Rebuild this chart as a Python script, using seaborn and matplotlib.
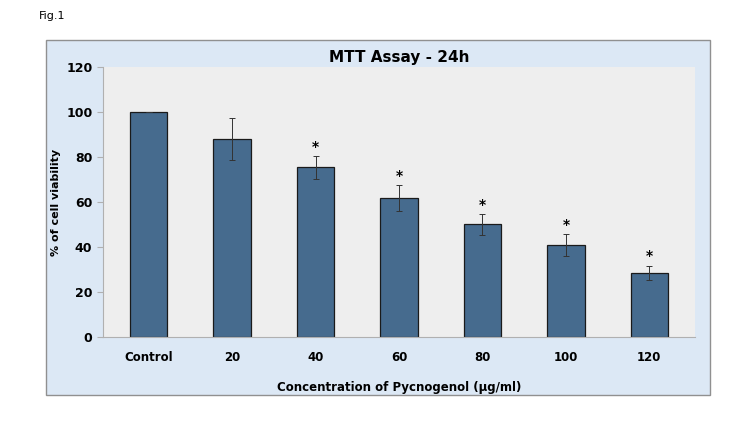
import matplotlib.pyplot as plt
import matplotlib.patches as mpatches
import pandas as pd
import seaborn as sns

categories = ["Control", "20", "40", "60", "80", "100", "120"]
viability = [100, 88, 75.5, 61.7, 50.1, 40.9, 28.5]
errors = [0, 9.3, 5.0, 5.8, 4.6, 4.8, 3.3]
significant = [False, False, True, True, True, True, True]

df = pd.DataFrame({"conc": categories, "viability": viability})

fig = plt.figure(figsize=(7.5, 4.22), dpi=100)
fig.patches.append(mpatches.Rectangle((0.061, 0.064), 0.886, 0.841, transform=fig.transFigure,
                                      facecolor="#dce8f5", edgecolor="#909090", lw=1, zorder=-1))
fig.text(0.052, 0.955, "Fig.1", fontsize=8, fontfamily="DejaVu Sans")

ax = fig.add_axes([0.137, 0.201, 0.79, 0.64])
ax.set_facecolor("#eeeeee")
sns.barplot(data=df, x="conc", y="viability", color="#466b8e", width=0.45,
            edgecolor="#1a1a1a", linewidth=0.9, saturation=1, ax=ax)
xs = range(len(categories))
ax.errorbar(xs, viability, yerr=errors, fmt="none", ecolor="#333333", elinewidth=0.7, capsize=2.5, capthick=0.7)
for x, v, e, s in zip(xs, viability, errors, significant):
    if s:
        ax.text(x, v + e + 1, "*", ha="center", va="bottom", fontsize=10, fontweight="bold")

ax.set_ylim(0, 120)
ax.set_yticks(range(0, 121, 20))
ax.set_xlim(-0.55, len(categories) - 0.45)
for side in ["top", "right"]:
    ax.spines[side].set_visible(False)
for side in ["left", "bottom"]:
    ax.spines[side].set_color("#b0b0b0")
ax.tick_params(axis="y", length=4, color="#b0b0b0", labelsize=9)
ax.tick_params(axis="x", length=0, labelsize=8.5, pad=10)
for lbl in ax.get_xticklabels() + ax.get_yticklabels():
    lbl.set_fontweight("bold")
ax.set_ylabel("% of cell viability", fontsize=8, fontweight="bold")
ax.set_xlabel("Concentration of Pycnogenol (µg/ml)", fontsize=8.5, fontweight="bold", labelpad=12)
ax.set_title("MTT Assay - 24h", fontsize=11, fontweight="bold", pad=4)

fig.savefig("out.png", dpi=100)
